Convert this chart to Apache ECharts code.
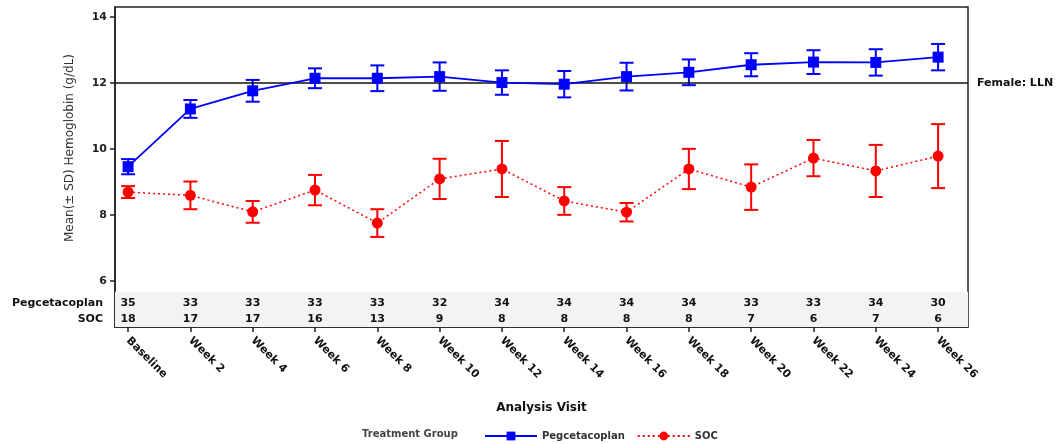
<!DOCTYPE html>
<html>
<head>
<meta charset="utf-8">
<script src="https://cdn.jsdelivr.net/npm/echarts@6/dist/echarts.min.js"></script>
<style>html,body{margin:0;padding:0;background:#fff;}#c{width:1061px;height:444px;}</style>
</head>
<body>
<div id="c"></div>
<script>
const categories = ['Baseline','Week 2','Week 4','Week 6','Week 8','Week 10','Week 12','Week 14','Week 16','Week 18','Week 20','Week 22','Week 24','Week 26'];
const pegMean = [9.46,11.21,11.76,12.14,12.14,12.19,12.01,11.96,12.19,12.32,12.55,12.63,12.62,12.78];
const pegSD   = [0.23,0.27,0.33,0.30,0.39,0.43,0.37,0.40,0.42,0.39,0.35,0.36,0.40,0.40];
const socMean = [8.69,8.59,8.09,8.75,7.75,9.09,9.39,8.42,8.08,9.39,8.84,9.72,9.33,9.78];
const socSD   = [0.18,0.42,0.33,0.46,0.42,0.61,0.85,0.42,0.28,0.61,0.69,0.55,0.79,0.97];
const pegN = [35,33,33,33,33,32,34,34,34,34,33,33,34,30];
const socN = [18,17,17,16,13,9,8,8,8,8,7,6,7,6];
const yTicks = [6,8,10,12,14];
const lln = 12;

const FONT = 'DejaVu Sans';
const xMin = -0.21, xMax = 13.48;
const yMin = 4.6, yMax = 14.3;
const rowPegY = 5.33, rowSocY = 4.85, bandTop = 5.667;

const chart = echarts.init(document.getElementById('c'));

function errSeries(name, mean, sd, color) {
  return {
    type: 'custom',
    name: name + ' SD',
    z: 3,
    silent: true,
    data: mean.map((m, i) => [i, m - sd[i], m + sd[i]]),
    encode: { x: 0, y: [1, 2] },
    renderItem: function (params, api) {
      const x = api.value(0), lo = api.value(1), hi = api.value(2);
      const p1 = api.coord([x, lo]), p2 = api.coord([x, hi]);
      const w = 7;
      const st = { stroke: color, lineWidth: 2 };
      return {
        type: 'group',
        children: [
          { type: 'line', shape: { x1: p1[0], y1: p1[1], x2: p2[0], y2: p2[1] }, style: st },
          { type: 'line', shape: { x1: p1[0] - w, y1: p1[1], x2: p1[0] + w, y2: p1[1] }, style: st },
          { type: 'line', shape: { x1: p2[0] - w, y1: p2[1], x2: p2[0] + w, y2: p2[1] }, style: st }
        ]
      };
    }
  };
}

const option = {
  animation: false,
  grid: { left: 115, right: 93, top: 7, bottom: 117, show: true, borderColor: '#222', borderWidth: 1.5, backgroundColor: 'transparent' },
  xAxis: {
    type: 'value', min: xMin, max: xMax,
    splitLine: { show: false },
    axisLine: { show: true, lineStyle: { color: '#222', width: 1.5 } },
    axisTick: { show: true, length: 5, customValues: categories.map((c, i) => i), lineStyle: { color: '#222', width: 1.5 } },
    axisLabel: {
      customValues: categories.map((c, i) => i),
      formatter: v => categories[Math.round(v)],
      rotate: -45, margin: 12,
      fontFamily: FONT, fontWeight: 'bold', fontSize: 11, color: '#111'
    },
    name: 'Analysis Visit', nameLocation: 'middle', nameGap: 75,
    nameTextStyle: { fontFamily: FONT, fontWeight: 'bold', fontSize: 12, color: '#111' }
  },
  yAxis: {
    type: 'value', min: yMin, max: yMax,
    splitLine: { show: false },
    axisLine: { show: true, onZero: false, lineStyle: { color: '#222', width: 1.5 } },
    axisTick: { show: true, length: 5, customValues: yTicks, lineStyle: { color: '#222', width: 1.5 } },
    axisLabel: {
      customValues: [rowSocY, rowPegY].concat(yTicks),
      margin: 8,
      formatter: function (v) {
        if (Math.abs(v - rowPegY) < 0.01) return '{r|Pegcetacoplan}';
        if (Math.abs(v - rowSocY) < 0.01) return '{r|SOC}';
        return String(Math.round(v));
      },
      fontFamily: FONT, fontWeight: 'bold', fontSize: 11, color: '#222',
      rich: { r: { fontFamily: FONT, fontWeight: 'bold', fontSize: 11, color: '#111', padding: [0, 4, 0, 0] } }
    }
  },
  legend: {
    data: ['Pegcetacoplan', 'SOC'],
    left: 479, top: 426,
    itemWidth: 52, itemHeight: 11, itemGap: 12,
    textStyle: { fontFamily: FONT, fontWeight: 'bold', fontSize: 10, color: '#333' }
  },
  graphic: [
    { type: 'text', left: 362, top: 429, style: { text: 'Treatment Group', fontFamily: FONT, fontWeight: 'bold', fontSize: 10, fill: '#444' } },
    { type: 'text', x: 70, y: 148, rotation: Math.PI / 2, style: { text: 'Mean(± SD) Hemoglobin (g/dL)', fontFamily: FONT, fontSize: 12, fill: '#333', align: 'center', verticalAlign: 'middle' } }
  ],
  series: [
    {
      type: 'line', name: 'band', silent: true, z: 1, data: [],
      markArea: {
        silent: true, z: 1,
        itemStyle: { color: '#f3f3f3', opacity: 1 },
        data: [[{ coord: [xMin, yMin] }, { coord: [xMax, bandTop] }]]
      }
    },
    {
      type: 'scatter', name: 'counts', silent: true, z: 6,
      symbolSize: 0,
      data: pegN.map((n, i) => [i, rowPegY, n]).concat(socN.map((n, i) => [i, rowSocY, n])),
      label: {
        show: true, position: 'inside', opacity: 1,
        fontFamily: FONT, fontWeight: 'bold', fontSize: 11, color: '#111',
        formatter: p => String(p.value[2])
      }
    },
    errSeries('Pegcetacoplan', pegMean, pegSD, '#0000ff'),
    errSeries('SOC', socMean, socSD, '#ff0000'),
    {
      type: 'line', name: 'Pegcetacoplan', z: 5,
      data: pegMean.map((m, i) => [i, m]),
      symbol: 'rect', symbolSize: 11,
      itemStyle: { color: '#0000ff' },
      lineStyle: { color: '#0000ff', width: 1.8 },
      markLine: {
        silent: true, symbol: 'none',
        lineStyle: { color: '#111', width: 1.5, type: 'solid' },
        label: { show: true, position: 'end', distance: 9, formatter: 'Female: LLN', fontFamily: FONT, fontWeight: 'bold', fontSize: 11, color: '#111' },
        data: [{ yAxis: lln }]
      }
    },
    {
      type: 'line', name: 'SOC', z: 5,
      data: socMean.map((m, i) => [i, m]),
      symbol: 'circle', symbolSize: 11,
      itemStyle: { color: '#ff0000' },
      lineStyle: { color: '#ff0000', width: 1.5, type: [2, 3] }
    }
  ]
};
chart.setOption(option);
</script>
</body>
</html>
